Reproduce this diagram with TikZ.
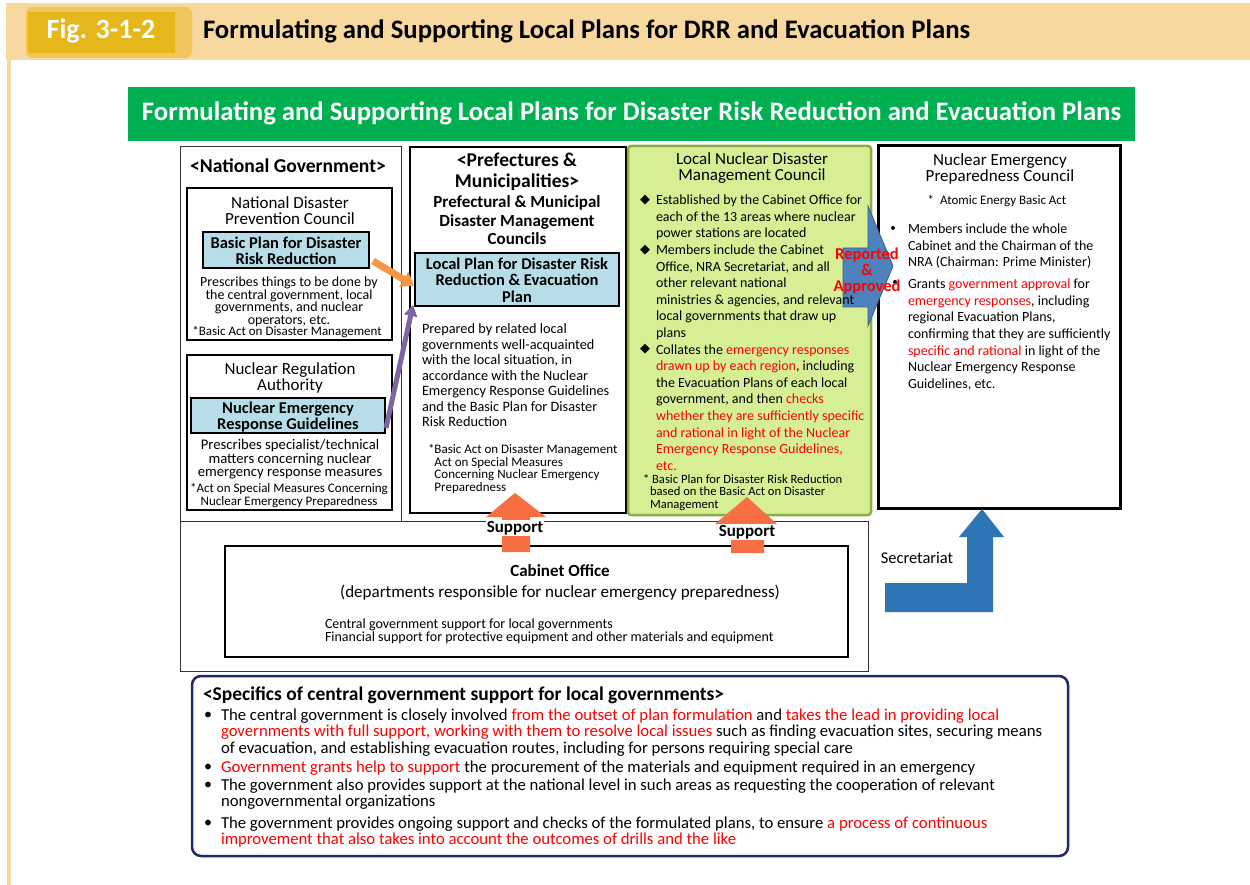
\documentclass[tikz,border=0pt]{standalone}
\usepackage{fontspec}
\setmainfont{Carlito}
\newfontfamily\dejavu{DejaVu Sans}
\usetikzlibrary{arrows.meta}
\lineskiplimit=-100pt
\newcommand\fs[2]{\fontsize{#1}{#2}\selectfont\lineskiplimit=-100pt\relax}
\definecolor{hdrc}{RGB}{247,216,158}
\definecolor{tabout}{RGB}{239,197,92}
\definecolor{tabin}{RGB}{229,183,26}
\definecolor{grn}{RGB}{0,176,80}
\definecolor{lblue}{RGB}{183,222,232}
\definecolor{limef}{RGB}{214,238,148}
\definecolor{limeb}{RGB}{140,172,72}
\definecolor{steel}{RGB}{79,129,189}
\definecolor{steelb}{RGB}{56,93,138}
\definecolor{orarr}{RGB}{247,150,70}
\definecolor{purp}{RGB}{128,100,162}
\definecolor{supp}{RGB}{247,110,66}
\definecolor{secb}{RGB}{46,117,182}
\definecolor{navy}{RGB}{31,40,110}
\definecolor{redt}{RGB}{255,0,0}
\newcommand\rd[1]{\textcolor{redt}{#1}}
\begin{document}
\begin{tikzpicture}[x=1pt,y=-1pt,
 t/.style={inner sep=0pt, outer sep=0pt},
 box/.style={draw, inner sep=0pt, outer sep=0pt, anchor=north west},
 thickbox/.style={box, line width=2.5pt},
 bluebox/.style={box, fill=lblue, line width=1.3pt},
 ml/.style={t, anchor=base, align=center},
 mll/.style={t, anchor=base west, align=left},
 diam/.style={t, font=\dejavu\fontsize{13}{13}\selectfont},
 supportlbl/.style={fill=white, inner sep=1pt, font=\fs{17}{17}\bfseries},
]
\useasboundingbox (0,0) rectangle (1250,885);
\fill[white] (0,0) rectangle (1250,885);
% header
\fill[hdrc] (6,3) rectangle (1250,60);
\fill[hdrc] (7,60) rectangle (11,885);
\node[box, draw=none, fill=tabout, rounded corners=7pt, minimum width=166, minimum height=51] (tabo) at (26,7) {};
\node[box, draw=none, fill=tabin, minimum width=147, minimum height=41] (tab) at (28,12) {};
\node[t, text=white, font=\fs{28}{28}\bfseries] (fig) at (101,31) {Fig. 3-1-2};
\node[t, anchor=west, font=\fs{26.7}{26.7}\bfseries] (title) at (203,31) {Formulating and Supporting Local Plans for DRR and Evacuation Plans};
% banner
\node[box, draw=none, fill=grn, minimum width=1007, minimum height=54] (banner) at (128,87) {};
\node[t, text=white, font=\fs{26.7}{26.7}\bfseries] (bannert) at (631.5,113) {Formulating and Supporting Local Plans for Disaster Risk Reduction and Evacuation Plans};
% boxes
\node[box, line width=1pt, draw=black!80, minimum width=221, minimum height=374] (natgov) at (180,147) {};
\node[box, line width=1pt, draw=black!80, minimum width=688, minimum height=150] (outer) at (180,521) {};
\node[thickbox, minimum width=205, minimum height=152] (ndpc) at (187,188) {};
\node[bluebox, minimum width=166, minimum height=36] (bp) at (203,232) {};
\node[thickbox, minimum width=205, minimum height=155] (nra) at (187,355) {};
\node[bluebox, minimum width=194, minimum height=35] (neg) at (191,398) {};
\node[thickbox, minimum width=216, minimum height=366] (pref) at (410,147) {};
\node[bluebox, minimum width=204, minimum height=53] (lp) at (415,253) {};
\node[box, fill=limef, draw=limeb, line width=2.5pt, rounded corners=3pt, minimum width=243, minimum height=369] (lndmc) at (628,146) {};
\node[box, line width=3pt, minimum width=242, minimum height=362] (nepc) at (878,146) {};
\node[thickbox, minimum width=623, minimum height=111] (cab) at (225,546) {};
\node[box, draw=navy, line width=2.5pt, rounded corners=9pt, minimum width=876, minimum height=180] (spec) at (192,676) {};
% reported & approved arrow (below texts)
\coordinate (ra1) at (843,248);
\filldraw[fill=steel, draw=steelb, line width=0.8pt] (ra1) -- (868,248) -- (868,206) -- (893,266) -- (868,326) -- (868,307) -- (843,307) -- cycle;
% national government texts
\node[t, font=\fs{19.6}{19.6}\bfseries] (ngh) at (288,166) {<National Government>};
\node[ml, font=\fs{17}{16}] (ndpct) at (290,224.6) {National Disaster\\Prevention Council};
\node[ml, font=\fs{16.5}{16}\bfseries] (bpt) at (286,264.4) {Basic Plan for Disaster\\Risk Reduction};
\node[ml, font=\fs{14}{12.6}] (ndpcb) at (289,324.3) {Prescribes things to be done by\\the central government, local\\governments, and nuclear\\operators, etc.};
\node[t, font=\fs{13}{13}] (ndpcf) at (287,332.5) {*Basic Act on Disaster Management};
\node[ml, font=\fs{17}{16}] (nrat) at (290,390.6) {Nuclear Regulation\\Authority};
\node[ml, font=\fs{16.5}{16}\bfseries] (negt) at (288,429.4) {Nuclear Emergency\\Response Guidelines};
\node[ml, font=\fs{14.7}{13.5}] (nrab) at (290,476.8) {Prescribes specialist/technical\\matters concerning nuclear\\emergency response measures};
\node[ml, font=\fs{13}{13}] (nraf) at (289,505.3) {*Act on Special Measures Concerning\\Nuclear Emergency Preparedness};
% prefectures
\node[ml, font=\fs{19.5}{21}\bfseries] (prefh) at (517,187.4) {<Prefectures \&\\Municipalities>};
\node[ml, font=\fs{17}{18.5}\bfseries] (prefs) at (517,244.6) {Prefectural \& Municipal\\Disaster Management\\Councils};
\node[ml, font=\fs{16.5}{16.5}\bfseries] (lpt) at (517,302.4) {Local Plan for Disaster Risk\\Reduction \& Evacuation\\Plan};
\node[mll, font=\fs{14.3}{15.5}] (prefb) at (422,426.7) {Prepared by related local\\governments well-acquainted\\with the local situation, in\\accordance with the Nuclear\\Emergency Response Guidelines\\and the Basic Plan for Disaster\\Risk Reduction};
\node[mll, font=\fs{13}{12.7}] (preff) at (428,491.4) {*Basic Act on Disaster Management\\\phantom{*}Act on Special Measures\\\phantom{*}Concerning Nuclear Emergency\\\phantom{*}Preparedness};
% local nuclear disaster management council
\node[ml, font=\fs{17}{16}] (lndt) at (752,180.6) {Local Nuclear Disaster\\Management Council};
\node[diam] (d1) at (645,200) {◆};
\node[diam] (d2) at (645,250) {◆};
\node[diam] (d3) at (645,349) {◆};
\node[mll, font=\fs{14}{16.6}] (i1) at (656,237.8) {Established by the Cabinet Office for\\each of the 13 areas where nuclear\\power stations are located};
\node[mll, font=\fs{14}{16.6}] (i2) at (656,337.4) {Members include the Cabinet\\Office, NRA Secretariat, and all\\other relevant national\\ministries \& agencies, and relevant\\local governments that draw up\\plans};
\node[mll, font=\fs{14}{16.6}] (i3) at (656,470.2) {Collates the \rd{emergency responses}\\\rd{drawn up by each region}, including\\the Evacuation Plans of each local\\government, and then \rd{checks}\\\rd{whether they are sufficiently specific}\\\rd{and rational in light of the Nuclear}\\\rd{Emergency Response Guidelines,}\\\rd{etc.}};
\node[mll, font=\fs{12.6}{12.5}] (lndf) at (643,508) {* Basic Plan for Disaster Risk Reduction\\\hspace*{7pt}based on the Basic Act on Disaster\\\hspace*{7pt}Management};
% nuclear emergency preparedness council
\node[ml, font=\fs{17}{16}] (nepct) at (1000,181.6) {Nuclear Emergency\\Preparedness Council};
\node[t, font=\fs{13}{13}] (nepca) at (997,201) {*\hspace{6pt}Atomic Energy Basic Act};
\node[t, font=\fs{11}{11}] (b1) at (893,229) {•};
\node[t, font=\fs{11}{11}] (b2) at (895,283) {•};
\node[mll, font=\fs{14}{16.5}] (r1) at (908,266.6) {Members include the whole\\Cabinet and the Chairman of the\\NRA (Chairman: Prime Minister)};
\node[mll, font=\fs{14}{16.6}] (r2) at (908,388.2) {Grants \rd{government approval} for\\\rd{emergency responses}, including\\regional Evacuation Plans,\\confirming that they are sufficiently\\\rd{specific and rational} in light of the\\Nuclear Emergency Response\\Guidelines, etc.};
\node[ml, text=redt, font=\fs{16.5}{16}\bfseries] (rat) at (867,291.4) {Reported\\\&\\Approved};
% connectors
\draw[orarr, line width=7pt, -{Triangle[length=12pt,width=17pt]}] ([shift={(4,11)}]bp.east) -- ([shift={(-1,6)}]lp.west);
\draw[purp, line width=5pt, -{Triangle[length=11pt,width=13pt]}] ([shift={(1,-5)}]neg.south east) -- ([shift={(-2,-1)}]lp.south west);
% support arrows
\fill[supp] (502,552) -- (502,517) -- (486,517) -- (515,493) -- (546,517) -- (530,517) -- (530,552) -- cycle;
\fill[supp] (731,553) -- (731,524) -- (715,524) -- (747,497) -- (777,524) -- (764,524) -- (764,553) -- cycle;
\node[supportlbl] (s1) at (515,528) {Support};
\node[supportlbl] (s2) at (747,532) {Support};
% cabinet office
\node[t, font=\fs{17}{17}\bfseries] (cabt) at (560,571) {Cabinet Office};
\node[t, font=\fs{17}{17}] (cabs) at (560,593) {(departments responsible for nuclear emergency preparedness)};
\node[mll, font=\fs{14}{13}] (cabb) at (325,641.6) {Central government support for local governments\\Financial support for protective equipment and other materials and equipment};
% secretariat arrow
\fill[secb] (885,583) -- (967,583) -- (967,537) -- (959,537) -- (982,509) -- (1004,537) -- (993,537) -- (993,612) -- (885,612) -- cycle;
\node[t, font=\fs{16.5}{16.5}] (sec) at (917,558) {Secretariat};
% specifics
\node[mll, font=\fs{19.5}{19.5}\bfseries] (spech) at (203,700) {<Specifics of central government support for local governments>};
\node[t, font=\fs{16}{16}] (sb1) at (208,716) {•};
\node[t, font=\fs{16}{16}] (sb2) at (208,768) {•};
\node[t, font=\fs{16}{16}] (sb3) at (208,786) {•};
\node[t, font=\fs{16}{16}] (sb4) at (208,824) {•};
\node[mll, font=\fs{16.7}{16.5}] (sp1) at (221,753.1) {The central government is closely involved \rd{from the outset of plan formulation} and \rd{takes the lead in providing local}\\\rd{governments with full support, working with them to resolve local issues} such as finding evacuation sites, securing means\\of evacuation, and establishing evacuation routes, including for persons requiring special care};
\node[mll, font=\fs{16.7}{16.5}] (sp2) at (221,772.1) {\rd{Government grants help to support} the procurement of the materials and equipment required in an emergency};
\node[mll, font=\fs{16.7}{16.5}] (sp3) at (221,806.6) {The government also provides support at the national level in such areas as requesting the cooperation of relevant\\nongovernmental organizations};
\node[mll, font=\fs{16.7}{16.5}] (sp4) at (221,844.6) {The government provides ongoing support and checks of the formulated plans, to ensure \rd{a process of continuous}\\\rd{improvement that also takes into account the outcomes of drills and the like}};
\end{tikzpicture}
\end{document}
